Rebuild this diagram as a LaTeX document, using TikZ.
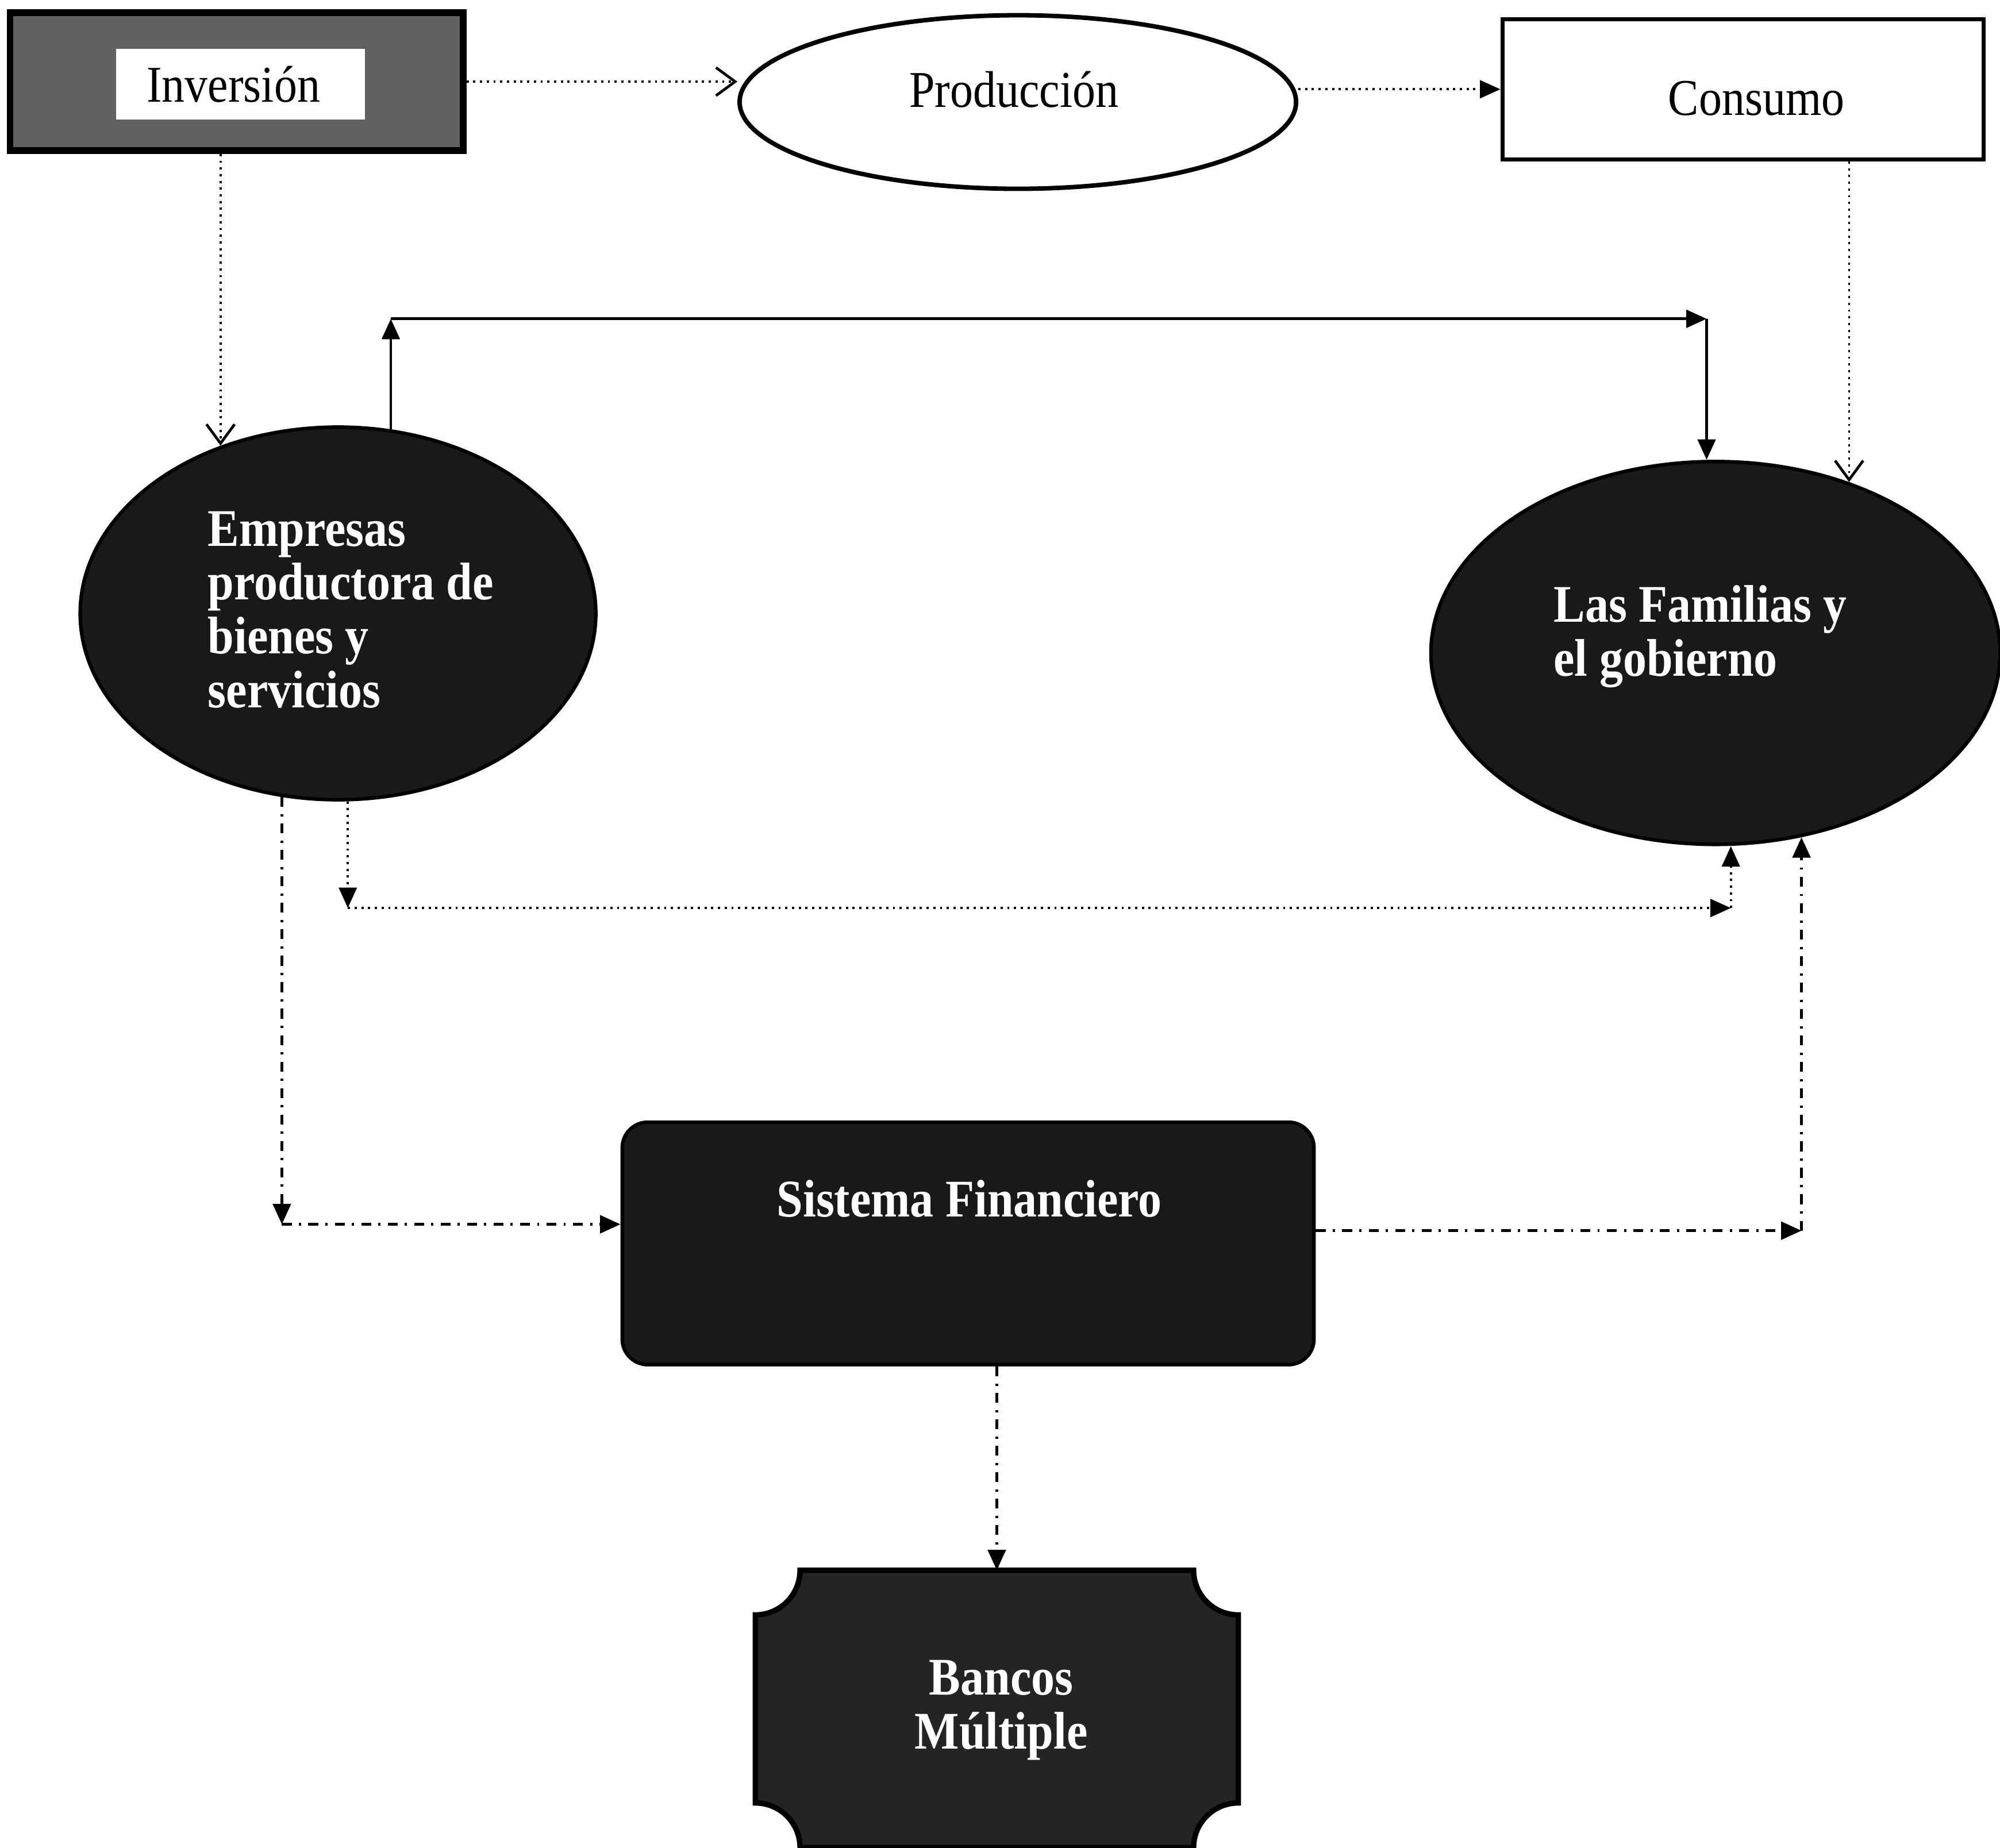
\documentclass[tikz,border=0pt]{standalone}
\usepackage{fontspec}
\setmainfont{Liberation Serif}[FakeStretch=0.89]
\usetikzlibrary{arrows.meta,shapes.geometric,calc}
\begin{document}
\begin{tikzpicture}[x=0.01cm,y=-0.01cm,
  lbl/.style={font=\fontsize{11.5}{12.5}\selectfont, inner sep=0},
  wlbl/.style={font=\fontsize{11.8}{12}\selectfont\bfseries, text=white, inner sep=0},
  dk/.style={fill=black!90, draw=black, line width=0.8pt},
  dotline/.style={line width=0.5pt, dash pattern=on 0.5pt off 1pt},
  solidline/.style={line width=0.6pt},
  dashdot/.style={line width=0.6pt, dash pattern=on 2.2pt off 1.6pt on 0.5pt off 1.6pt},
  tri/.style={-{Triangle[length=0.16cm,width=0.14cm]}},
  vee/.style={-{Straight Barb[length=0.15cm,width=0.22cm,line width=0.6pt]}}]
\useasboundingbox (0,0) rectangle (1568,1449);

% top row
\node[draw=black, line width=1.5pt, fill=black!62, minimum width=3.55cm, minimum height=1.08cm, inner sep=0] (inv) at (185.5,64) {};
\node[fill=white, minimum width=1.95cm, minimum height=0.55cm, inner sep=0] (invbox) at (188.5,66) {};
\node[lbl] (invtxt) at (183,66) {Inversión};
\node[ellipse, draw, line width=1pt, minimum width=4.36cm, minimum height=1.36cm] (prod) at (798,80) {};
\node[lbl] (prodtxt) at (795,70) {Producción};
\node[draw, line width=0.9pt, minimum width=3.77cm, minimum height=1.10cm] (cons) at (1366.5,70) {};
\node[lbl] (constxt) at (1377,77) {Consumo};

% middle ellipses
\node[ellipse, dk, minimum width=4.04cm, minimum height=2.92cm] (emp) at (265,481) {};
\node[wlbl, align=left] (emptxt) at (275,478) {Empresas\\productora de\\bienes y\\servicios};
\node[ellipse, dk, minimum width=4.46cm, minimum height=3.0cm] (fam) at (1345,512) {};
\node[wlbl, align=left] (famtxt) at (1333,499) {Las Familias y\\el gobierno};

% Sistema financiero
\node[dk, rounded corners=0.2cm, minimum width=5.42cm, minimum height=1.90cm] (sis) at (759,975) {};
\node[wlbl] (sistxt) at (760,940) {Sistema Financiero};

% Bancos
\node[minimum width=3.77cm, minimum height=2.16cm, inner sep=0] (ban) at (781.5,1340) {};
\draw[fill=black!86, draw=black, line width=1.2pt]
  ([xshift=0.35cm]ban.north west) -- ([xshift=-0.35cm]ban.north east)
  arc[start angle=180,end angle=270,radius=0.35cm]
  -- ([yshift=0.35cm]ban.south east)
  arc[start angle=90,end angle=180,radius=0.35cm]
  -- ([xshift=0.35cm]ban.south west)
  arc[start angle=0,end angle=90,radius=0.35cm]
  -- ([yshift=-0.35cm]ban.north west)
  arc[start angle=270,end angle=360,radius=0.35cm] -- cycle;
\node[wlbl, align=center] (bantxt) at (785,1341) {Bancos\\Múltiple};

% connectors: top row
\draw[dotline, vee] (inv.east) -- (inv.east -| prod.west);
\draw[dotline, tri] (prod.east |- cons.west) -- (cons.west);
\draw[dotline, vee] (inv.south -| emp.125) -- (emp.125);
\draw[dotline, vee] (cons.south -| fam.52) -- (fam.52);

% solid upper loop
\coordinate (tl) at (emp.74 |- 0,250);
\coordinate (tr) at (1338,250);
\draw[solidline, tri] (emp.74) -- (tl);
\draw[solidline, tri] (tl) -- (tr);
\draw[solidline, tri] (tr) -- (tr |- fam.north);

% dotted lower loop
\coordinate (bl) at (emp.-87 |- 0,712);
\coordinate (br) at (1357,712);
\draw[dotline, tri] (emp.-87) -- (bl);
\draw[dotline, tri] (bl) -- (br);
\draw[dotline, tri] (br) -- (br |- fam.south);

% dash-dot links through the financial system
\coordinate (dl) at (emp.-107.6 |- 0,960);
\draw[dashdot, tri] (emp.-107.6) -- (dl);
\draw[dashdot, tri] (dl) -- (dl -| sis.west);
\coordinate (dr) at (fam.-65 |- 0,965);
\draw[dashdot, tri] (sis.east |- dr) -- (dr);
\draw[dashdot, tri] (dr) -- (fam.-65);
\draw[dashdot, tri] (sis.south -| ban.north) -- (ban.north);
\end{tikzpicture}
\end{document}
